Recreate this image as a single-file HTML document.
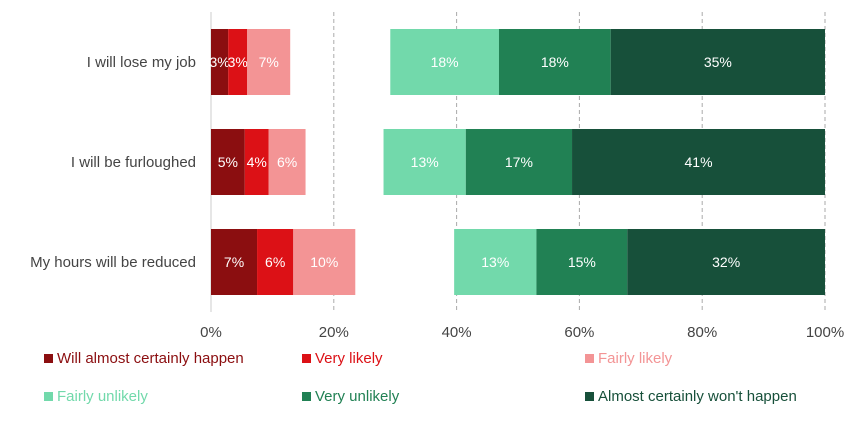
<!DOCTYPE html>
<html><head><meta charset="utf-8"><style>
body{margin:0;background:#fff;width:850px;height:425px;overflow:hidden;font-family:"Liberation Sans",sans-serif}
</style></head><body>
<svg id="chart" width="850" height="425" xmlns="http://www.w3.org/2000/svg" font-family="Liberation Sans, sans-serif"></svg>
<script>
const categories=["I will lose my job","I will be furloughed","My hours will be reduced"];
const seriesNames=["Will almost certainly happen","Very likely","Fairly likely","Fairly unlikely","Very unlikely","Almost certainly won't happen"];
const almostCertain=[2.8,5.5,7.5];
const veryLikely=[3.1,3.9,5.9];
const fairlyLikely=[7.0,6.0,10.1];
const fairlyUnlikely=[17.7,13.4,13.4];
const veryUnlikely=[18.2,17.3,14.8];
const almostCertainlyNot=[34.9,41.2,32.2];
const labelsNeg=[["3%","3%","7%"],["5%","4%","6%"],["7%","6%","10%"]];
const labelsPos=[["18%","18%","35%"],["13%","17%","41%"],["13%","15%","32%"]];
const ticks=[0,20,40,60,80,100];
const colors=["#8b0e10","#dc1116","#f39495","#72d9ab","#218154","#17503a"];
const legendText=["#8b0e10","#dc1116","#f39495","#72d9ab","#218154","#17503a"];
const svg=document.getElementById('chart');
const NS="http://www.w3.org/2000/svg";
const x0=211,x1=825;
const xs=v=>x0+(x1-x0)*v/100;
const rowY=i=>29+i*100, barH=66;
function mk(t,a){const e=document.createElementNS(NS,t);for(const k in a)e.setAttribute(k,a[k]);svg.appendChild(e);return e;}
// grid
ticks.forEach(t=>{
 const l=mk('line',{x1:xs(t),x2:xs(t),y1:12,y2:312,stroke:t===0?'#ccc':'#aaa','stroke-width':1,'stroke-dasharray':t===0?'none':'4,3'});
 
 
 const tx=mk('text',{x:xs(t),y:337,'text-anchor':'middle','font-size':15,fill:'#444'});
 tx.textContent=t+'%';
 
 
});
const neg=[almostCertain,veryLikely,fairlyLikely], pos=[fairlyUnlikely,veryUnlikely,almostCertainlyNot];
categories.forEach((c,i)=>{
 const y=rowY(i);
 const lab=mk('text',{x:196,y:y+barH/2+5,'text-anchor':'end','font-size':15,fill:'#444'});
 lab.textContent=c;
 
 
 let acc=0;
 neg.forEach((s,j)=>{
  const r=mk('rect',{x:xs(acc),y:y,width:xs(acc+s[i])-xs(acc),height:barH,fill:colors[j]});
  
  
  const t=mk('text',{x:xs(acc+s[i]/2),y:y+barH/2+5,'text-anchor':'middle','font-size':14,fill:'#fff'});
  t.textContent=labelsNeg[i][j];
  
  
  acc+=s[i];
 });
 let tot=pos.reduce((a,s)=>a+s[i],0); acc=100-tot;
 pos.forEach((s,j)=>{
  const r=mk('rect',{x:xs(acc),y:y,width:xs(acc+s[i])-xs(acc),height:barH,fill:colors[j+3]});
  
  
  const t=mk('text',{x:xs(acc+s[i]/2),y:y+barH/2+5,'text-anchor':'middle','font-size':14,fill:'#fff'});
  t.textContent=labelsPos[i][j];
  
  
  acc+=s[i];
 });
});
const legX=[44,302,585];
seriesNames.forEach((n,k)=>{
 const x=legX[k%3], y=k<3?359:397;
 const r=mk('rect',{x:x,y:y-5,width:9,height:9,fill:colors[k]});
 
 
 const t=mk('text',{x:x+13,y:y+4,'font-size':15,fill:legendText[k]});
 t.textContent=n;
 
 
});
</script>
</body></html>
